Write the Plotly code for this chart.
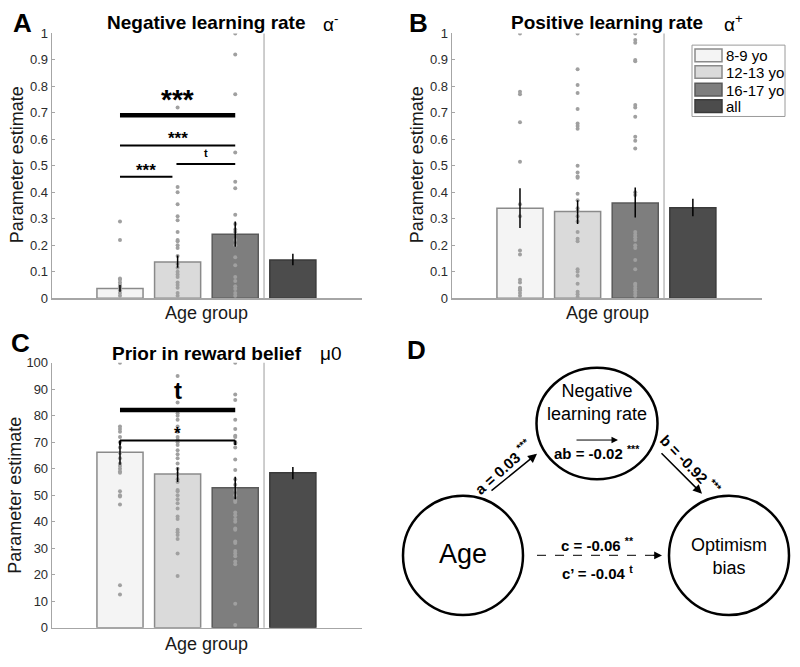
import plotly.graph_objects as go

W, H = 800, 667
groups = ["8-9 yo", "12-13 yo", "16-17 yo", "all"]
bar_colors = ["#f4f4f4", "#dadada", "#7e7e7e", "#4c4c4c"]
edge_colors = ["#8a8a8a", "#8a8a8a", "#5a5a5a", "#3a3a3a"]
positions = [1, 2, 3, 4]

# Panel A: negative learning rate
neg_mean = [0.037, 0.137, 0.242, 0.145]
neg_lo = [0.025, 0.115, 0.195, 0.125]
neg_hi = [0.050, 0.162, 0.290, 0.168]
neg_g1 = [0.29, 0.22, 0.075, 0.07, 0.06, 0.05, 0.045, 0.04, 0.03, 0.02, 0.01]
neg_g2 = [0.72, 0.42, 0.40, 0.355, 0.31, 0.295, 0.25, 0.22, 0.215, 0.20, 0.19, 0.16,
          0.13, 0.115, 0.10, 0.09, 0.08, 0.06, 0.05, 0.04, 0.02, 0.01]
neg_g3 = [1.0, 0.92, 0.77, 0.55, 0.44, 0.415, 0.315, 0.28, 0.26, 0.25, 0.22, 0.20,
          0.155, 0.125, 0.08, 0.065, 0.045, 0.035, 0.02, 0.01]

# Panel B: positive learning rate
pos_mean = [0.340, 0.328, 0.360, 0.342]
pos_lo = [0.265, 0.280, 0.305, 0.310]
pos_hi = [0.415, 0.370, 0.418, 0.376]
pos_g1 = [1.0, 0.78, 0.77, 0.665, 0.515, 0.355, 0.31, 0.18, 0.165, 0.07, 0.06, 0.04,
          0.035, 0.03, 0.02, 0.01]
pos_g2 = [1.0, 0.865, 0.805, 0.775, 0.715, 0.66, 0.65, 0.64, 0.50, 0.475, 0.46, 0.455,
          0.395, 0.37, 0.34, 0.33, 0.31, 0.29, 0.25, 0.225, 0.215, 0.11, 0.10, 0.085,
          0.055, 0.025, 0.015, 0.005]
pos_g3 = [1.0, 0.975, 0.965, 0.90, 0.895, 0.73, 0.72, 0.685, 0.61, 0.595, 0.565, 0.40,
          0.39, 0.25, 0.24, 0.23, 0.22, 0.20, 0.19, 0.145, 0.11, 0.055, 0.05, 0.04,
          0.03, 0.02, 0.01]

# Panel C: prior in reward belief
pri_mean = [66.2, 58.0, 52.8, 58.5]
pri_lo = [61.5, 55.0, 48.5, 56.0]
pri_hi = [70.5, 60.5, 57.0, 60.7]
pri_g1 = [100, 76, 75, 74, 72, 70, 68, 66, 64, 62, 61, 60, 59, 58.5, 51.5, 50, 49.5,
          46.5, 16, 12.5]
pri_g2 = [95, 85, 81, 80, 78.5, 76, 74, 72, 71, 70, 69, 67, 65.5, 64, 62, 60, 58, 56,
          55, 52, 51.5, 50, 48.5, 47, 45, 42, 41, 37, 36, 35, 33.5, 28, 19.5]
pri_g3 = [100, 88, 86, 78.5, 75, 72.5, 72, 70, 69.5, 68, 63.5, 59.5, 56, 54, 52, 50,
          48, 47.5, 43.5, 42.5, 41, 40, 37.5, 37, 32.5, 32, 29, 28, 27, 25, 24, 9, 1]

# significance brackets: (x_start, x_end, y, label, thick)
sig_A = [(1, 3, 0.691, "***", True), (1, 3, 0.577, "***", False),
         (1, 1.91, 0.459, "***", False), (1.98, 3, 0.507, "t", False)]
sig_C = [(1, 3, 82.2, "t", True), (1, 3, 70.7, "*", False)]

FONT = "Liberation Sans, Arial, Helvetica, sans-serif"


def px(x):
    return x / W


def py(y):
    return 1 - y / H


fig = go.Figure()

panels = [
    ("x", "y", neg_mean, neg_lo, neg_hi, [neg_g1, neg_g2, neg_g3]),
    ("x2", "y2", pos_mean, pos_lo, pos_hi, [pos_g1, pos_g2, pos_g3]),
    ("x3", "y3", pri_mean, pri_lo, pri_hi, [pri_g1, pri_g2, pri_g3]),
]

for xa, ya, mean, lo, hi, dots in panels:
    fig.add_trace(go.Bar(x=positions, y=mean, width=0.8, xaxis=xa, yaxis=ya,
                         marker=dict(color=bar_colors, line=dict(color=edge_colors, width=1.5)),
                         showlegend=False, hoverinfo="skip"))
    for gi, vals in enumerate(dots):
        fig.add_trace(go.Scatter(x=[positions[gi]] * len(vals), y=vals, mode="markers",
                                 xaxis=xa, yaxis=ya,
                                 marker=dict(size=4, color="#a0a0a0"),
                                 showlegend=False, hoverinfo="skip"))
    fig.add_trace(go.Scatter(x=positions, y=mean, mode="markers", xaxis=xa, yaxis=ya,
                             marker=dict(size=1, opacity=0),
                             error_y=dict(type="data", symmetric=False,
                                          array=[h - m for h, m in zip(hi, mean)],
                                          arrayminus=[m - l for m, l in zip(mean, lo)],
                                          color="black", thickness=1.5, width=0),
                             showlegend=False, hoverinfo="skip"))

# axes layout
ax_common = dict(showgrid=False, zeroline=False, showline=True, linecolor="#a6a6a6",
                 linewidth=1.3, tickcolor="#a6a6a6", tickwidth=1,
                 tickfont=dict(family=FONT, size=13, color="#2b2b2b"))
xr = [-0.18, 5.2]
fig.update_layout(
    xaxis=dict(domain=[px(52), px(362)], range=xr, showticklabels=False, ticks="", anchor="y",
               **ax_common),
    yaxis=dict(domain=[py(298), py(27)], range=[0, 1], dtick=0.1, anchor="x",
               ticks="inside", ticklen=3, **ax_common),
    xaxis2=dict(domain=[px(452), px(762)], range=xr, showticklabels=False, ticks="", anchor="y2",
                **ax_common),
    yaxis2=dict(domain=[py(298), py(27)], range=[0, 1], dtick=0.1, anchor="x2",
                ticks="inside", ticklen=3, **ax_common),
    xaxis3=dict(domain=[px(52), px(362)], range=xr, showticklabels=False, ticks="", anchor="y3",
                **ax_common),
    yaxis3=dict(domain=[py(635), py(364)], range=[0, 100], dtick=10, anchor="x3",
                ticks="inside", ticklen=3, **ax_common),
    xaxis4=dict(domain=[0.5, 1], range=[400, 800], visible=False, anchor="y4"),
    yaxis4=dict(domain=[0, 0.5], range=[667, 333.5], visible=False, anchor="x4"),
)

shapes = []
annotations = []

# separators at x=3.5
for xa, ya in [("x", "y"), ("x2", "y2"), ("x3", "y3")]:
    shapes.append(dict(type="line", xref=xa, yref=f"{ya} domain", x0=3.5, x1=3.5, y0=0, y1=1,
                       line=dict(color="#bdbdbd", width=1.5)))

# significance brackets
for xa, ya, sigs, ymax in [("x", "y", sig_A, 1.0), ("x3", "y3", sig_C, 100.0)]:
    for x0, x1, yv, lab, thick in sigs:
        shapes.append(dict(type="line", xref=xa, yref=ya, x0=x0, x1=x1, y0=yv, y1=yv,
                           line=dict(color="black", width=4.5 if thick else 2)))
        if lab == "*":
            for xe in (x0, x1):
                shapes.append(dict(type="line", xref=xa, yref=ya, x0=xe, x1=xe, y0=yv,
                                   y1=yv - 0.017 * ymax, line=dict(color="black", width=2)))
        if lab == "t":
            size = 24 if thick else 11
            shift = 4 if thick else 3
        else:
            size = 28 if thick else 17
            shift = -2 if thick else -5
        annotations.append(dict(xref=xa, yref=ya, x=(x0 + x1) / 2, y=yv, text=f"<b>{lab}</b>",
                                showarrow=False, yanchor="bottom", yshift=shift,
                                font=dict(family=FONT, size=size, color="black")))

# titles, letters, axis titles
def txt(x, y, t, size, bold=False, angle=0, color="black", xanchor="center"):
    annotations.append(dict(xref="paper", yref="paper", x=px(x), y=py(y),
                            text=f"<b>{t}</b>" if bold else t, showarrow=False,
                            xanchor=xanchor, yanchor="middle", textangle=angle,
                            font=dict(family=FONT, size=size, color=color)))

txt(22, 16, "A", 26, True)
txt(206, 16, "Negative learning rate", 19, True)
txt(330, 16, "α<sup>-</sup>", 19)
txt(418, 16, "B", 26, True)
txt(607, 16, "Positive learning rate", 19, True)
txt(733, 16, "α<sup>+</sup>", 19)
txt(20, 344, "C", 26, True)
txt(207, 354, "Prior in reward belief", 19, True)
txt(331, 354, "μ0", 19)
txt(416, 351, "D", 26, True)

txt(207, 313, "Age group", 18, color="#1a1a1a")
txt(607, 313, "Age group", 18, color="#1a1a1a")
txt(207, 652, "Age group", 18, color="#1a1a1a")
txt(17, 162, "Parameter estimate", 18, angle=-90, color="#1a1a1a")
txt(417, 162, "Parameter estimate", 18, angle=-90, color="#1a1a1a")
txt(15, 500, "Parameter estimate", 18, angle=-90, color="#1a1a1a")

# manual legend in panel B
shapes.append(dict(type="rect", xref="paper", yref="paper", x0=px(692), x1=px(785),
                   y0=py(112), y1=py(39), line=dict(color="#9a9a9a", width=1),
                   fillcolor="white"))
row_tops = [43, 60, 78, 95]
for i, g in enumerate(groups):
    shapes.append(dict(type="rect", xref="paper", yref="paper", x0=px(695), x1=px(722),
                       y0=py(row_tops[i] + 13), y1=py(row_tops[i]),
                       line=dict(color=edge_colors[i], width=1.5), fillcolor=bar_colors[i]))
    txt(724, row_tops[i] + 7, g, 15, xanchor="left")

# Panel D: mediation diagram
nodes = {"age": (463, 561, 60, 61), "neg": (597, 426, 60.5, 57), "opt": (729, 561, 60, 61)}
for cx, cy, rx, ry in nodes.values():
    shapes.append(dict(type="circle", xref="x4", yref="y4", x0=cx - rx, x1=cx + rx,
                       y0=cy - ry, y1=cy + ry, line=dict(color="black", width=2.5)))

def dtxt(x, y, t, size, bold=False, angle=0):
    annotations.append(dict(xref="x4", yref="y4", x=x, y=y, text=f"<b>{t}</b>" if bold else t,
                            showarrow=False, textangle=angle, xanchor="center", yanchor="middle",
                            font=dict(family=FONT, size=size, color="black")))

def arrow(x0, y0, x1, y1, width=1.5, size=1.2):
    annotations.append(dict(xref="x4", yref="y4", axref="x4", ayref="y4", x=x1, y=y1, ax=x0, ay=y0,
                            text="", showarrow=True, arrowhead=2, arrowsize=size,
                            arrowwidth=width, arrowcolor="black"))

dtxt(597, 405, "Negative<br>learning rate", 18)
dtxt(463, 560, "Age", 27)
dtxt(729, 562, "Optimism<br>bias", 18)
dtxt(597, 456, "ab = -0.02 <sup>***</sup>", 15, True)
dtxt(597, 550, "c = -0.06 <sup>**</sup>", 15, True)
dtxt(597, 578, "c’ = -0.04 <sup>t</sup>", 15, True)
dtxt(503, 470, "a = 0.03 <sup>***</sup>", 15, True, angle=-42)
dtxt(691, 468, "b = -0.92 <sup>***</sup>", 15, True, angle=46)

arrow(490, 496, 537, 457)
arrow(660, 455, 702, 498)
arrow(575, 443, 618, 443, width=1, size=1.3)
shapes.append(dict(type="line", xref="x4", yref="y4", x0=537, x1=655, y0=561, y1=561,
                   line=dict(color="#333", width=1.3, dash="dash")))
arrow(652, 561, 662, 561, width=1.3, size=1.2)

fig.update_layout(width=W, height=H, margin=dict(l=0, r=0, t=0, b=0),
                  plot_bgcolor="white", paper_bgcolor="white", barmode="overlay",
                  shapes=shapes, annotations=annotations, showlegend=False)

post = ("document.documentElement.style.margin='0';document.documentElement.style.overflow='hidden';"
        "document.body.style.margin='0';document.body.style.overflow='hidden';"
        "var d=document.getElementsByClassName('plotly-graph-div')[0];"
        "d.style.position='fixed';d.style.left='0px';d.style.top='0px';")
fig.write_html("out.html", config={"displayModeBar": False, "staticPlot": True},
               post_script=post)
